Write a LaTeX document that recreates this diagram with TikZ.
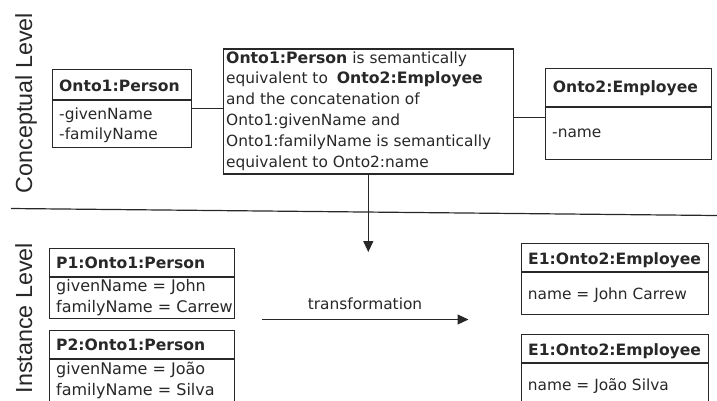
\documentclass[tikz,border=0pt]{standalone}
\usepackage{fontspec}
\setmainfont{DejaVu Sans}
\newfontfamily\lblfont{Liberation Sans}
\usetikzlibrary{arrows.meta}
\definecolor{ink}{HTML}{282828}
\newcommand{\bb}[1]{{\fontsize{15.7}{20.8}\selectfont\bfseries #1}}
\begin{document}
\begin{tikzpicture}[x=1pt,y=-1pt,
  cls/.style={draw=ink, line width=1.2pt, inner sep=0pt, anchor=north west},
  txt/.style={anchor=base west, inner sep=0pt, text=ink, font=\fontsize{15.4}{20.8}\selectfont},
  ptxt/.style={txt, font=\fontsize{16}{20.8}\selectfont},
  ttl/.style={anchor=base west, inner sep=0pt, text=ink, font=\fontsize{15.6}{20.8}\selectfont\bfseries},
  conn/.style={draw=ink, line width=1.2pt},
  arr/.style={conn, -{Triangle[length=11pt,width=10pt]}},
  lvl/.style={anchor=base, rotate=90, inner sep=0pt, text=ink, font=\lblfont\fontsize{23.3}{28}\selectfont}]
\useasboundingbox (0,0) rectangle (717,400);
\fill[white] (0,0) rectangle (717,400);
\clip (0,0) rectangle (717,400);

% level labels
\node[lvl] (lc) at (32,103) {Conceptual Level};
\node[lvl] (li) at (32,318) {Instance Level};

% separator
\coordinate (sepL) at (11,208.5);
\coordinate (sepR) at (717,215.5);
\draw[conn] (sepL) -- (sepR);

% Onto1:Person
\node[cls, minimum width=138.7pt, minimum height=78pt] (o1) at (52,69) {};
\draw[conn] (o1.west |- 0,100) -- (o1.east |- 0,100);
\node[ttl] (o1t) at (59,91) {Onto1:Person};
\node[txt] (o1a) at (59,119) {-givenName};
\node[txt] (o1b) at (59,139.5) {-familyName};

% middle statement box
\node[cls, minimum width=290pt, minimum height=125pt] (mid) at (222.7,48.3) {};
\node[txt, align=left] (midt) at (226,167) {\bb{Onto1:Person} is semantically\\
equivalent to \hspace{4pt}\bb{Onto2:Employee}\\
and the concatenation of\\
Onto1:givenName and\\
Onto1:familyName is semantically\\
equivalent to Onto2:name};

% Onto2:Employee
\node[cls, minimum width=165.7pt, minimum height=91pt] (o2) at (545,68) {};
\draw[conn] (o2.west |- 0,107) -- (o2.east |- 0,107);
\node[ttl] (o2t) at (552.7,92.7) {Onto2:Employee};
\node[txt] (o2a) at (552,137) {-name};

% conceptual links
\draw[conn] (o1.east) -- (o1.east -| mid.west);
\draw[conn] ([yshift=-3.5pt]o2.west) -- ([yshift=-3.5pt]o2.west -| mid.east);

% down arrow
\coordinate (downEnd) at (367.5,252);
\draw[arr] (mid.south) -- (mid.south |- downEnd);

% P1
\node[cls, minimum width=185pt, minimum height=70pt] (p1) at (49,248) {};
\draw[conn] (p1.west |- 0,277) -- (p1.east |- 0,277);
\node[ttl] (p1t) at (56,268) {P1:Onto1:Person};
\node[ptxt] (p1a) at (56,291.7) {givenName = John};
\node[ptxt] (p1b) at (56,312) {familyName = Carrew};

% P2
\node[cls, minimum width=185pt, minimum height=80pt] (p2) at (49,330) {};
\draw[conn] (p2.west |- 0,359) -- (p2.east |- 0,359);
\node[ttl] (p2t) at (56,350.7) {P2:Onto1:Person};
\node[ptxt] (p2a) at (56,374) {givenName = João};
\node[ptxt] (p2b) at (56,395) {familyName = Silva};

% transformation arrow
\coordinate (tA) at (262,319.5);
\coordinate (tB) at (468.5,319.5);
\draw[arr] (tA) -- (tB);
\node[anchor=base, inner sep=0pt, text=ink, font=\fontsize{15.4}{18}\selectfont] (tl) at (365,309.5) {transformation};

% E1 (a)
\node[cls, minimum width=187pt, minimum height=71pt] (e1) at (521,243) {};
\draw[conn] (e1.west |- 0,272) -- (e1.east |- 0,272);
\node[ttl] (e1t) at (528,264.3) {E1:Onto2:Employee};
\node[txt] (e1a) at (527.7,299) {name = John Carrew};

% E1 (b)
\node[cls, minimum width=187pt, minimum height=80pt] (e2) at (521,334) {};
\draw[conn] (e2.west |- 0,363) -- (e2.east |- 0,363);
\node[ttl] (e2t) at (528,355) {E1:Onto2:Employee};
\node[txt] (e2a) at (527.7,390) {name = João Silva};
\end{tikzpicture}
\end{document}
